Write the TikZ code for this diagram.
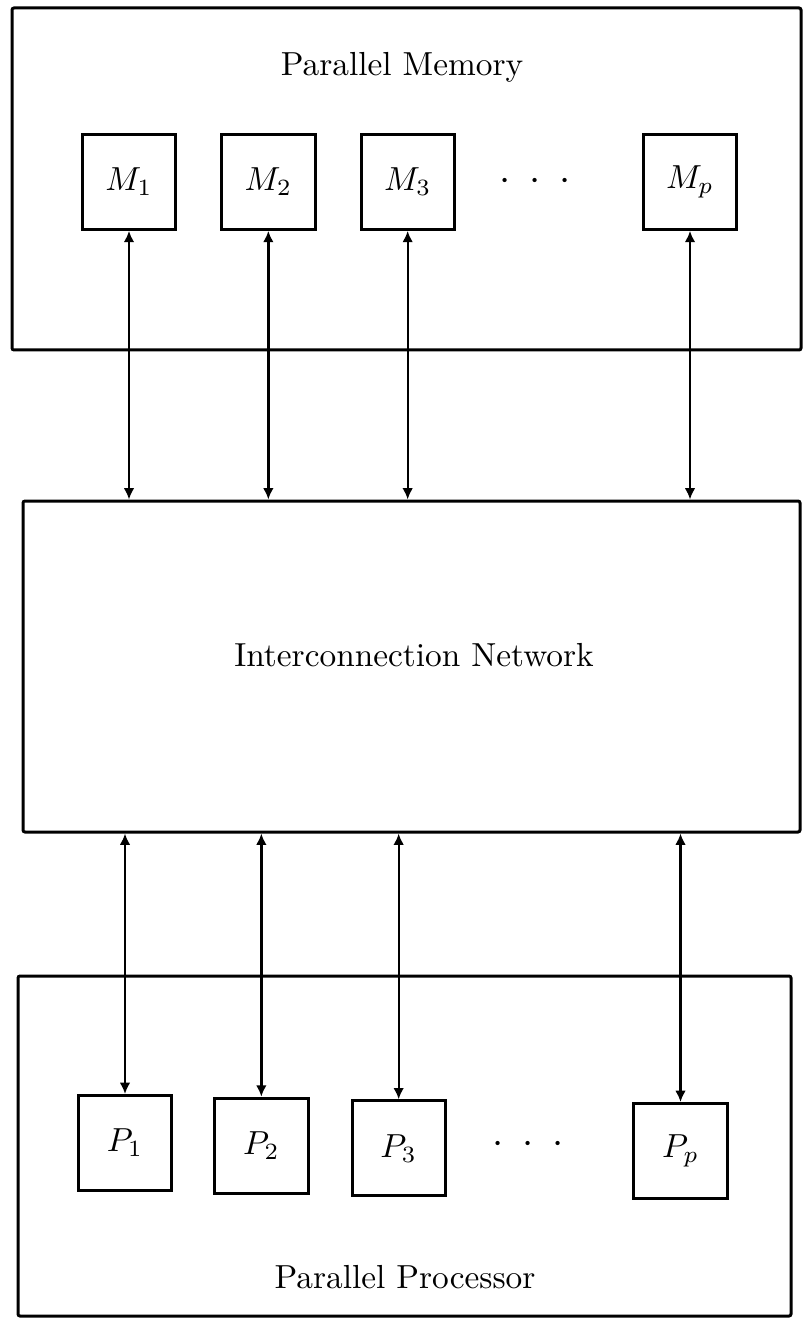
\documentclass[tikz,border=0pt]{standalone}
\usetikzlibrary{arrows.meta,positioning}

\begin{document}
\begin{tikzpicture}[
    x=0.3pt, y=-0.3pt,
    node distance=12.9pt,
    unit/.style={rectangle, draw, line width=0.9pt, minimum width=28pt, minimum height=28.4pt, inner sep=0pt},
    frame/.style={rectangle, draw, line width=0.9pt, rounded corners=0.6pt, inner sep=0pt},
    link/.style={{Latex[length=3.4pt,width=3.2pt]}-{Latex[length=3.4pt,width=3.2pt]}, line width=0.7pt}
]
    \useasboundingbox (0,0) rectangle (805,1321);

    % memory side
    \node[frame, minimum width=236.7pt, minimum height=102.6pt] (mem) at (406.5,179) {};
    \node (memlabel) at (402,67) {Parallel Memory};
    \node[unit] (m1) at (129,182) {$M_1$};
    \node[unit, right=of m1] (m2) {$M_2$};
    \node[unit, right=of m2] (m3) {$M_3$};
    \node (mdots) at (535,182) {\large$\cdot$\hspace{5.6pt}$\cdot$\hspace{5.6pt}$\cdot$};
    \node[unit] (mp) at (690,182) {$M_p$};

    % network
    \node[frame, minimum width=233.1pt, minimum height=99.3pt] (net) at (411.5,666.5) {};
    \node (netlabel) at (414,655) {Interconnection Network};

    % processor side
    \node[frame, minimum width=231.9pt, minimum height=102pt] (proc) at (404.5,1146) {};
    \node (proclabel) at (405,1277) {Parallel Processor};
    \node[unit, minimum height=28.5pt] (p1) at (125,1143) {$P_1$};
    \node[unit, minimum height=28.5pt, right=12pt of p1, yshift=-0.8pt] (p2) {$P_2$};
    \node[unit, minimum height=28.5pt, right=12.3pt of p2, yshift=-0.8pt] (p3) {$P_3$};
    \node (pdots) at (528,1145) {\large$\cdot$\hspace{5.6pt}$\cdot$\hspace{5.6pt}$\cdot$};
    \node[unit, minimum height=28.5pt] (pp) at (680.5,1151) {$P_p$};

    \foreach \i in {1,2,3,p} {
        \draw[link] (m\i.south) -- (m\i.south |- net.north);
        \draw[link] (net.south -| p\i.north) -- (p\i.north);
    }
\end{tikzpicture}
\end{document}
